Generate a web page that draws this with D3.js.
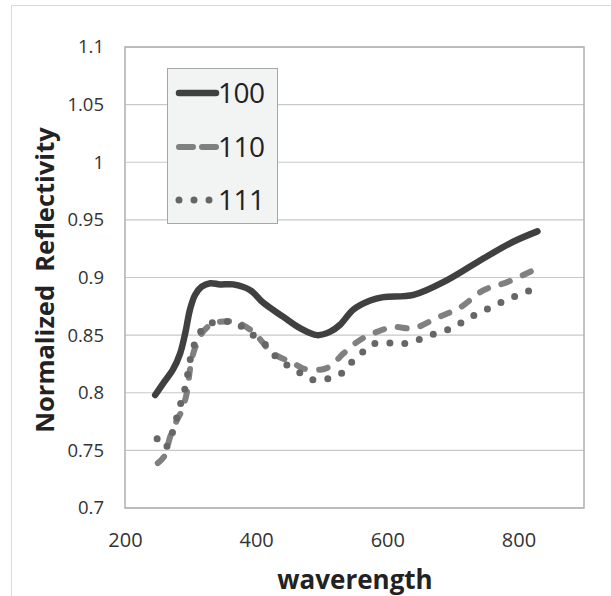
<!DOCTYPE html>
<html><head><meta charset="utf-8">
<script src="https://cdn.jsdelivr.net/npm/d3@7"></script>
<style>body{margin:0;background:#fff}svg{display:block}</style>
</head><body>
<script>
const xTicks = [200, 400, 600, 800];
const yTicks = [0.7, 0.75, 0.8, 0.85, 0.9, 0.95, 1, 1.05, 1.1];
const yTickLabels = ["0.7","0.75","0.8","0.85","0.9","0.95","1","1.05","1.1"];
const seriesNames = ["100", "110", "111"];

const s100 = [[246,0.798],[258,0.808],[273,0.82],[284,0.834],[292,0.852],[299,0.872],[307,0.885],[317,0.892],[330,0.895],[345,0.894],[365,0.894],[391,0.889],[411,0.878],[441,0.866],[467,0.856],[493,0.85],[513,0.853],[528,0.859],[548,0.872],[574,0.88],[594,0.883],[640,0.885],[692,0.898],[742,0.915],[792,0.931],[829,0.94]];
const s110 = [[250,0.739],[260,0.745],[269,0.762],[279,0.776],[287,0.785],[295,0.802],[299,0.82],[304,0.834],[310,0.843],[319,0.853],[334,0.86],[356,0.862],[371,0.861],[395,0.853],[426,0.834],[456,0.826],[472,0.821],[498,0.82],[513,0.823],[533,0.834],[559,0.846],[585,0.853],[609,0.857],[640,0.856],[676,0.865],[711,0.874],[747,0.889],[783,0.896],[829,0.908]];
const s111 = [[249,0.76],[261,0.752],[272,0.765],[282,0.785],[292,0.805],[300,0.83],[308,0.845],[318,0.855],[330,0.86],[350,0.862],[370,0.86],[390,0.852],[412,0.843],[427,0.833],[447,0.824],[468,0.817],[488,0.811],[514,0.813],[533,0.818],[548,0.828],[566,0.837],[582,0.843],[608,0.843],[630,0.843],[653,0.847],[676,0.852],[699,0.856],[719,0.863],[739,0.869],[762,0.875],[783,0.881],[806,0.886],[829,0.892]];

const W = 611, H = 596;
const svg = d3.select("body").append("svg").attr("width", W).attr("height", H);
svg.append("rect").attr("x", 11.5).attr("y", 5.5).attr("width", 620).attr("height", 620)
  .attr("fill", "#fff").attr("stroke", "#d9d9d9");

const L = 125, R = 584, T = 47, B = 508;
const x = d3.scaleLinear().domain([200, 900]).range([L, R]);
const y = d3.scaleLinear().domain([0.7, 1.1]).range([B, T]);
const font = "'Open Sans', 'Liberation Sans', sans-serif";

// gridlines
svg.append("g").selectAll("line").data(yTicks).join("line")
  .attr("x1", L).attr("x2", R).attr("y1", d => y(d)).attr("y2", d => y(d))
  .attr("stroke", "#c8c8c8").attr("stroke-width", 1.2);
svg.append("rect").attr("x", L).attr("y", T).attr("width", R - L).attr("height", B - T)
  .attr("fill", "none").attr("stroke", "#b0b0b0").attr("stroke-width", 1.5);

// axes (labels only)
const yAxis = svg.append("g").attr("transform", `translate(${L - 21},0)`)
  .call(d3.axisLeft(y).tickValues(yTicks).tickFormat((d, i) => yTickLabels[i]).tickSize(0).tickPadding(0));
yAxis.select(".domain").remove();
yAxis.selectAll("text").attr("font-family", font).attr("font-size", 18.5).attr("fill", "#333");

const xAxis = svg.append("g").attr("transform", `translate(0,${B + 25})`)
  .call(d3.axisBottom(x).tickValues(xTicks).tickFormat(d3.format("d")).tickSize(0).tickPadding(0));
xAxis.select(".domain").remove();
xAxis.selectAll("text").attr("font-family", font).attr("font-size", 20).attr("fill", "#333");

// titles
svg.append("text").attr("x", 355).attr("y", 589).attr("text-anchor", "middle")
  .attr("font-family", font).attr("font-weight", "bold")
  .attr("font-size", 26).attr("fill", "#222").text("waverength");
svg.append("text").attr("transform", "translate(54,280) rotate(-90)").attr("text-anchor", "middle")
  .attr("font-family", font).attr("font-weight", "bold")
  .attr("font-size", 25.5).attr("fill", "#222").style("white-space", "pre")
  .text("Normalized  Reflectivity");

// lines
const line = d3.line().x(d => x(d[0])).y(d => y(d[1])).curve(d3.curveCatmullRom);
const styles = [
  {data: s100, color: "#404040", width: 6.5, dash: null},
  {data: s110, color: "#808080", width: 6, dash: "9,14"},
  {data: s111, color: "#666666", width: 7, dash: "0,15"}
];
styles.forEach(s => {
  svg.append("path").attr("d", line(s.data)).attr("fill", "none")
    .attr("stroke", s.color).attr("stroke-width", s.width)
    .attr("stroke-linecap", "round").attr("stroke-linejoin", "round")
    .attr("stroke-dasharray", s.dash);
});

// legend
const lg = svg.append("g");
lg.append("rect").attr("x", 167.5).attr("y", 68.5).attr("width", 110).attr("height", 155)
  .attr("fill", "#f2f3f3").attr("stroke", "#a6a6a6");
const ly = [93, 147, 200];
seriesNames.forEach((n, i) => {
  const s = styles[i];
  lg.append("line").attr("x1", 179).attr("x2", 216).attr("y1", ly[i]).attr("y2", ly[i])
    .attr("stroke", s.color).attr("stroke-width", s.width)
    .attr("stroke-linecap", "round").attr("stroke-dasharray", i === 1 ? "14,9" : (i === 2 ? "0,15" : null));
  lg.append("text").attr("x", 218).attr("y", ly[i] + 10)
    .attr("font-family", font).attr("font-size", 28).attr("letter-spacing", -0.5)
    .attr("fill", "#222").text(n);
});
</script>
</body></html>
